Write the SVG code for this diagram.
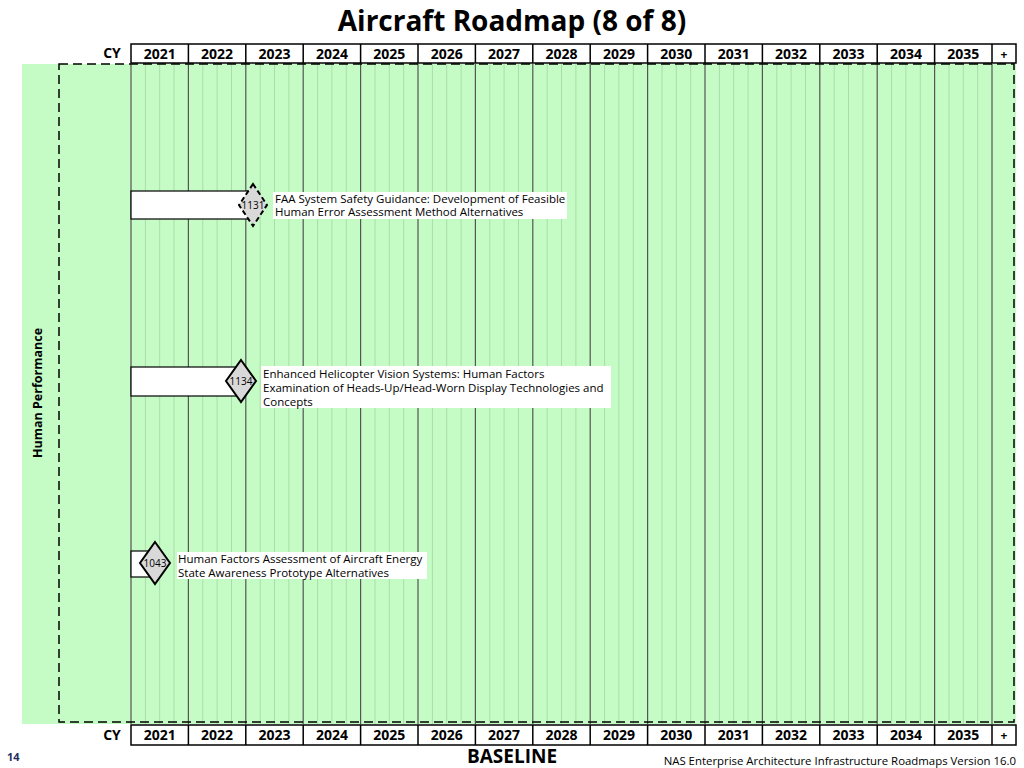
<svg xmlns="http://www.w3.org/2000/svg" width="1024" height="768" viewBox="0 0 1024 768">
<defs>
<style>
text{font-family:"Open Sans","Noto Sans","DejaVu Sans",sans-serif;fill:#000}
.yr{font-size:14px;font-weight:bold;text-anchor:middle}
.hdr{fill:#fff;stroke:#000;stroke-width:1.5}
.yl{stroke:#555;stroke-width:1.2}
.ql{stroke:#aadcaa;stroke-width:1}
.bar{fill:#fff;stroke:#000;stroke-width:1.2}
.dia{fill:#d9d9d9;stroke:#000;stroke-width:2}
.lbl{fill:#fff}
.lt{font-size:11.5px}
.num{font-size:10px;text-anchor:middle}
</style>
</defs>
<rect width="1024" height="768" fill="#fff"/>
<text x="512" y="31" style="font-size:28px;font-weight:bold" text-anchor="middle">Aircraft Roadmap (8 of 8)</text>
<g id="swimlane">
<rect x="22" y="64" width="994" height="660" fill="#c5fcc5"/>
<g id="quarters">
<path class="ql" d="M145.4 64V724M159.7 64V724M174 64V724M202.8 64V724M217.1 64V724M231.5 64V724M260.2 64V724M274.5 64V724M288.9 64V724M317.6 64V724M331.9 64V724M346.3 64V724M375 64V724M389.3 64V724M403.7 64V724M432.4 64V724M446.7 64V724M461.1 64V724M489.8 64V724M504.1 64V724M518.5 64V724M547.2 64V724M561.5 64V724M575.9 64V724M604.6 64V724M618.9 64V724M633.3 64V724M662 64V724M676.3 64V724M690.7 64V724M719.4 64V724M733.7 64V724M748.1 64V724M776.8 64V724M791.1 64V724M805.5 64V724M834.2 64V724M848.5 64V724M862.9 64V724M891.6 64V724M905.9 64V724M920.3 64V724M949 64V724M963.3 64V724M977.7 64V724"/>
</g>
<path class="yl" d="M131 64V724M188.4 64V724M245.8 64V724M303.2 64V724M360.6 64V724M418 64V724M475.4 64V724M532.8 64V724M590.2 64V724M647.6 64V724M705 64V724M762.4 64V724M819.8 64V724M877.2 64V724M934.6 64V724M992 64V724"/>
<rect x="59" y="64" width="955" height="658" fill="none" stroke="#000" stroke-width="1.5" stroke-dasharray="9,5"/>
<text transform="translate(42,393) rotate(-90)" style="font-size:12.5px;font-weight:bold" text-anchor="middle">Human Performance</text>
</g>
<g id="header-top">
<text x="112" y="58" class="yr">CY</text>
<rect class="hdr" x="131" y="44" width="885" height="19"/>
<path stroke="#000" stroke-width="1.5" d="M188.4 44V63M245.8 44V63M303.2 44V63M360.6 44V63M418 44V63M475.4 44V63M532.8 44V63M590.2 44V63M647.6 44V63M705 44V63M762.4 44V63M819.8 44V63M877.2 44V63M934.6 44V63M992 44V63"/>
<text class="yr" y="58.5"><tspan x="159.7">2021</tspan><tspan x="217.1">2022</tspan><tspan x="274.5">2023</tspan><tspan x="331.9">2024</tspan><tspan x="389.3">2025</tspan><tspan x="446.7">2026</tspan><tspan x="504.1">2027</tspan><tspan x="561.5">2028</tspan><tspan x="618.9">2029</tspan><tspan x="676.3">2030</tspan><tspan x="733.7">2031</tspan><tspan x="791.1">2032</tspan><tspan x="848.5">2033</tspan><tspan x="905.9">2034</tspan><tspan x="963.3">2035</tspan><tspan x="1004" style="font-size:12px">+</tspan></text>
</g>
<g id="header-bottom">
<text x="112" y="740" class="yr">CY</text>
<rect class="hdr" x="131" y="725" width="885" height="20"/>
<path stroke="#000" stroke-width="1.5" d="M188.4 725V745M245.8 725V745M303.2 725V745M360.6 725V745M418 725V745M475.4 725V745M532.8 725V745M590.2 725V745M647.6 725V745M705 725V745M762.4 725V745M819.8 725V745M877.2 725V745M934.6 725V745M992 725V745"/>
<text class="yr" y="740"><tspan x="159.7">2021</tspan><tspan x="217.1">2022</tspan><tspan x="274.5">2023</tspan><tspan x="331.9">2024</tspan><tspan x="389.3">2025</tspan><tspan x="446.7">2026</tspan><tspan x="504.1">2027</tspan><tspan x="561.5">2028</tspan><tspan x="618.9">2029</tspan><tspan x="676.3">2030</tspan><tspan x="733.7">2031</tspan><tspan x="791.1">2032</tspan><tspan x="848.5">2033</tspan><tspan x="905.9">2034</tspan><tspan x="963.3">2035</tspan><tspan x="1004" style="font-size:12px">+</tspan></text>
</g>
<g id="node-1131">
<rect class="bar" x="131" y="191" width="122" height="28"/>
<path class="dia" d="M253 184L267 205L253 226L239 205Z" stroke-dasharray="5,3" stroke-width="1.5"/>
<text x="253" y="209" class="num">1131</text>
<rect class="lbl" x="273" y="192" width="294" height="27"/>
<text class="lt" x="275" y="203">FAA System Safety Guidance: Development of Feasible</text>
<text class="lt" x="275" y="216">Human Error Assessment Method Alternatives</text>
</g>
<g id="node-1134">
<rect class="bar" x="131" y="367" width="110" height="29"/>
<path class="dia" d="M241 360L256 381L241 402L226 381Z"/>
<text x="241" y="385" class="num">1134</text>
<rect class="lbl" x="261" y="366" width="350" height="42"/>
<text class="lt" x="263" y="378">Enhanced Helicopter Vision Systems:  Human Factors</text>
<text class="lt" x="263" y="392">Examination of Heads-Up/Head-Worn Display Technologies and</text>
<text class="lt" x="263" y="406">Concepts</text>
</g>
<g id="node-1043">
<rect class="bar" x="131" y="551" width="24" height="26"/>
<path class="dia" d="M155 542L170 563L155 584L140 563Z"/>
<text x="155" y="567" class="num">1043</text>
<rect class="lbl" x="177" y="552" width="250" height="27"/>
<text class="lt" x="178" y="563">Human Factors Assessment of Aircraft Energy</text>
<text class="lt" x="178" y="577">State Awareness Prototype Alternatives</text>
</g>
<g id="connectors"></g>
<text x="7" y="761" style="font-size:11px;font-weight:bold;fill:#1f2f5f">14</text>
<text x="512" y="763" style="font-size:19px;font-weight:bold" text-anchor="middle">BASELINE</text>
<text x="1016" y="765" style="font-size:11.4px" text-anchor="end">NAS Enterprise Architecture Infrastructure Roadmaps Version 16.0</text>
</svg>
